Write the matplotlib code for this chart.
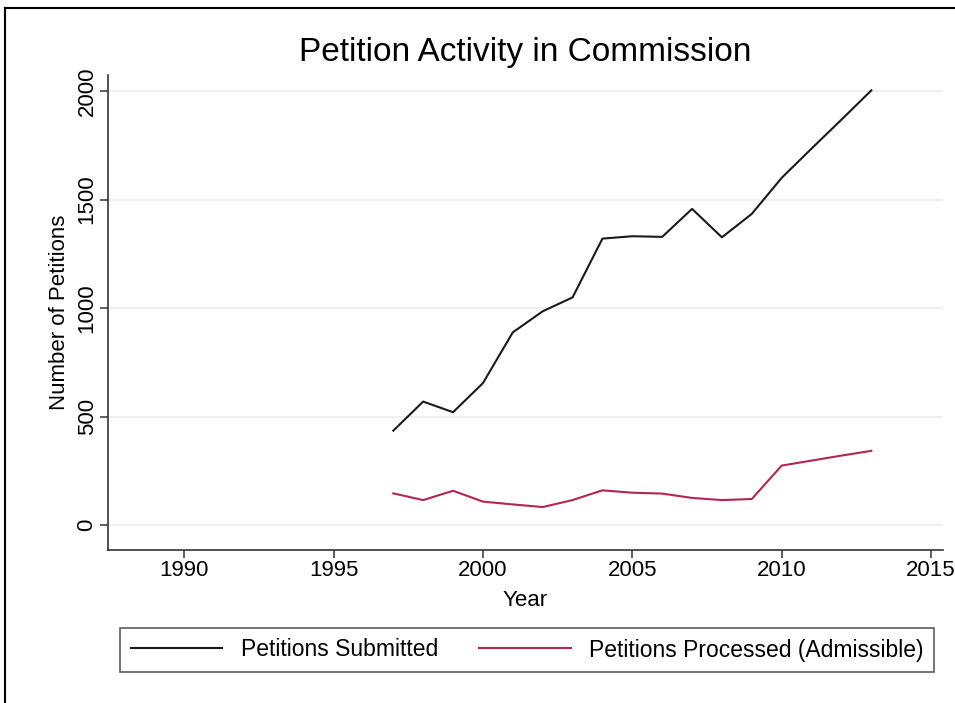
import matplotlib.pyplot as plt
from matplotlib.lines import Line2D

plt.rcParams['font.family'] = ['Liberation Sans', 'DejaVu Sans']

# data
years = [1997, 1998, 1999, 2000, 2001, 2002, 2003, 2004, 2005,
         2006, 2007, 2008, 2009, 2010, 2011, 2012, 2013]
submitted = [435, 569, 520, 654, 888, 985, 1049, 1320, 1331,
             1328, 1457, 1326, 1434, 1600, 1735, 1868, 2003]
processed = [146, 115, 158, 108, 95, 83, 115, 160, 149,
             145, 125, 115, 120, 274, 297, 320, 342]

x_ticks = [1990, 1995, 2000, 2005, 2010, 2015]
y_ticks = [0, 500, 1000, 1500, 2000]

W, H = 955, 703
fig = plt.figure(figsize=(W / 100, H / 100), dpi=100)
ax = fig.add_axes([108 / W, 1 - 550 / H, (943 - 108) / W, (550 - 75) / H])

red = '#b3264f'
ax.plot(years, submitted, color='#1a1a1a', lw=1.5, label='Petitions Submitted')
ax.plot(years, processed, color=red, lw=1.5, label='Petitions Processed (Admissible)')

ax.set_xlim(1987.45, 2015.4)
ax.set_ylim(-115, 2074)
ax.set_xticks(x_ticks)
ax.set_yticks(y_ticks)
ax.set_yticklabels([str(v) for v in y_ticks], rotation=90, va='center')
ax.grid(axis='y', color='#eeeeee', lw=1.2)
ax.set_axisbelow(True)

for s in ['top', 'right']:
    ax.spines[s].set_visible(False)
for s in ['left', 'bottom']:
    ax.spines[s].set_color('#333333')
    ax.spines[s].set_linewidth(1.2)
ax.tick_params(axis='both', direction='out', length=6, width=1.1,
               color='#333333', labelsize=16, pad=1.5)

ax.set_xlabel('Year', fontsize=16, labelpad=6)
ax.set_ylabel('Number of Petitions', fontsize=16, labelpad=5)
fig.text(525 / W, 1 - 52 / H, 'Petition Activity in Commission',
         ha='center', va='center', fontsize=24)

handles, labels = ax.get_legend_handles_labels()
leg = fig.legend(handles, labels, ncol=2, loc='center',
                 bbox_to_anchor=(527 / W, 1 - 650 / H),
                 fontsize=16.5, frameon=True, fancybox=False,
                 handlelength=4.0, handletextpad=0.8, columnspacing=1.8,
                 borderpad=0.45, borderaxespad=0)
leg.get_frame().set_edgecolor('#333333')
leg.get_frame().set_linewidth(1.2)

# outer frame of the graph region
fig.add_artist(Line2D([5 / W, 5 / W], [0, 1 - 8 / H], transform=fig.transFigure,
                      color='black', lw=1.5))
fig.add_artist(Line2D([5 / W, 1], [1 - 8 / H, 1 - 8 / H], transform=fig.transFigure,
                      color='black', lw=1.5))

fig.savefig('out.png', dpi=100)
